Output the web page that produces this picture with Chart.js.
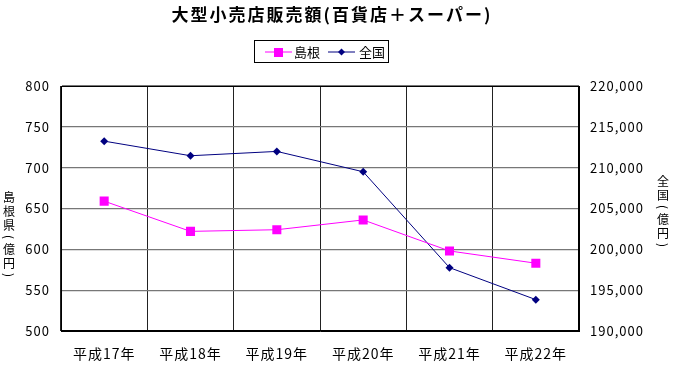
<!DOCTYPE html>
<html>
<head>
<meta charset="utf-8">
<script src="https://cdn.jsdelivr.net/npm/chart.js@4"></script>
<style>
	html, body { margin: 0; padding: 0; background: #fff; }
	#graphique { display: block; }
</style>
</head>
<body>
<canvas id="graphique" width="673" height="371"></canvas>
<script>
// Données
const annees = ['平成17年', '平成18年', '平成19年', '平成20年', '平成21年', '平成22年'];
const shimane = [659, 622, 624, 636, 598, 583];
const zenkoku = [213250, 211460, 211990, 209500, 197760, 193840];
const ticksGauche = [500, 550, 600, 650, 700, 750, 800];
const ticksDroite = [190000, 195000, 200000, 205000, 210000, 215000, 220000];

const titre = '大型小売店販売額(百貨店＋スーパー)';
const police = "'Noto Sans CJK JP', 'Noto Sans', sans-serif";
const rose = '#ff00ff';
const marine = '#000080';

// Texte vertical caractère par caractère (parenthèses tournées)
function texteVertical(ctx, texte, x, y) {
	for (const c of texte) {
		const paren = c === '(' || c === ')';
		const h = paren ? 10 : 14;
		const cy = y + h / 2;
		if (paren) {
			ctx.save();
			ctx.translate(x, cy);
			ctx.rotate(Math.PI / 2);
			ctx.fillText(c, 0, 0);
			ctx.restore();
		} else {
			ctx.fillText(c, x, cy);
		}
		y += h;
	}
}

const decor = {
	id: 'decor',
	beforeDraw(chart) {
		chart.ctx.letterSpacing = '1px';
	},
	afterDraw(chart) {
		const ctx = chart.ctx;
		const a = chart.chartArea;
		ctx.save();
		ctx.letterSpacing = '0px';
		// cadre de la zone de tracé
		ctx.strokeStyle = '#000';
		ctx.lineWidth = 1;
		ctx.strokeRect(a.left + 0.5, a.top + 0.5, a.right - a.left - 1, a.bottom - a.top - 1);

		// titre
		ctx.fillStyle = '#000';
		ctx.textAlign = 'center';
		ctx.textBaseline = 'middle';
		ctx.font = 'bold 17px ' + police;
		ctx.letterSpacing = '2px';
		ctx.fillText(titre, 332, 15);
		ctx.letterSpacing = '0px';

		// légende
		ctx.strokeStyle = '#000';
		ctx.strokeRect(254.5, 40.5, 134, 22);
		ctx.lineWidth = 1;
		ctx.strokeStyle = rose;
		ctx.beginPath(); ctx.moveTo(265, 52); ctx.lineTo(292, 52); ctx.stroke();
		ctx.fillStyle = rose;
		ctx.fillRect(274, 48, 9, 9);
		ctx.strokeStyle = marine;
		ctx.beginPath(); ctx.moveTo(328, 52); ctx.lineTo(355, 52); ctx.stroke();
		ctx.fillStyle = marine;
		ctx.beginPath();
		ctx.moveTo(341.5, 48.5); ctx.lineTo(345, 52); ctx.lineTo(341.5, 55.5); ctx.lineTo(338, 52);
		ctx.closePath(); ctx.fill();
		ctx.fillStyle = '#000';
		ctx.font = '13px ' + police;
		ctx.textAlign = 'left';
		ctx.fillText(chart.data.datasets[0].label, 294, 52);
		ctx.fillText(chart.data.datasets[1].label, 359, 52);

		// titres des axes
		ctx.textAlign = 'center';
		ctx.font = '12px ' + police;
		texteVertical(ctx, '島根県(億円)', 9, 190);
		texteVertical(ctx, '全国(億円)', 663, 174);
		ctx.restore();
	}
};

const config = {
	type: 'line',
	data: {
		labels: annees,
		datasets: [
			{
				label: '島根',
				data: shimane,
				yAxisID: 'y',
				borderColor: rose,
				backgroundColor: rose,
				borderWidth: 1,
				pointStyle: 'rect',
				pointRadius: 6.4,
				pointHoverRadius: 6.4,
				pointBorderWidth: 0,
			},
			{
				label: '全国',
				data: zenkoku,
				yAxisID: 'y1',
				borderColor: marine,
				backgroundColor: marine,
				borderWidth: 1,
				pointStyle: 'rectRot',
				pointRadius: 4,
				pointHoverRadius: 4,
				pointBorderWidth: 0,
			},
		],
	},
	options: {
		responsive: false,
		animation: false,
		layout: { padding: { top: 86, left: 0, right: 0, bottom: 0 } },
		plugins: {
			legend: { display: false },
			title: { display: false },
			tooltip: { enabled: false },
		},
		scales: {
			x: {
				offset: true,
				afterFit: (s) => { s.height = 40; },
				grid: { offset: true, color: '#222', lineWidth: 1, drawTicks: false },
				border: { color: '#000' },
				ticks: { color: '#000', font: { family: police, size: 14 }, padding: 14, maxRotation: 0 },
			},
			y: {
				position: 'left',
				min: ticksGauche[0],
				max: ticksGauche[ticksGauche.length - 1],
				afterFit: (s) => { s.width = 61; },
				afterBuildTicks: (s) => { s.ticks = ticksGauche.map((v) => ({ value: v })); },
				grid: { color: '#777', lineWidth: 1.3, drawTicks: false },
				border: { color: '#000' },
				ticks: { color: '#000', font: { family: police, size: 13 }, padding: 11 },
			},
			y1: {
				position: 'right',
				min: ticksDroite[0],
				max: ticksDroite[ticksDroite.length - 1],
				afterFit: (s) => { s.width = 94; },
				afterBuildTicks: (s) => { s.ticks = ticksDroite.map((v) => ({ value: v })); },
				grid: { drawOnChartArea: false, drawTicks: false },
				border: { color: '#000' },
				ticks: {
					color: '#000',
					font: { family: police, size: 13 },
					padding: 11,
					callback: (v) => v.toLocaleString('en-US'),
				},
			},
		},
	},
	plugins: [decor],
};

new Chart(document.querySelector('#graphique'), config);
</script>
</body>
</html>
